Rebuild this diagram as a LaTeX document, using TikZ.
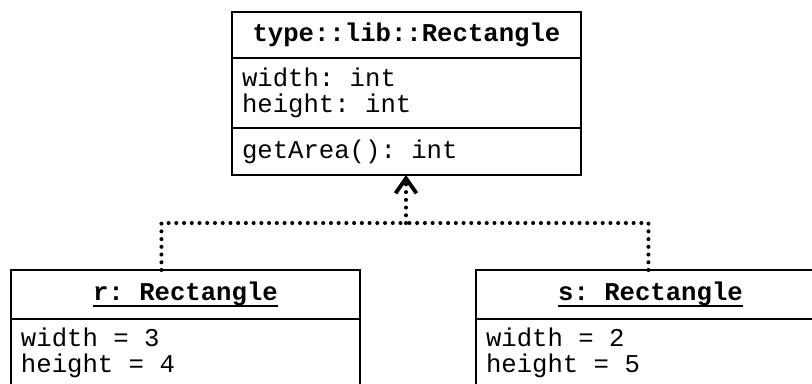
\documentclass[tikz,border=0pt]{standalone}
\usepackage{fontspec}
\setmonofont{Liberation Mono}
\usetikzlibrary{arrows.meta,calc}

% one character wide space
\newcommand{\ws}{\hphantom{0}}
% underlined object name
\newcommand{\objname}[1]{\setbox0\hbox{#1}\rlap{\rule[-4pt]{\wd0}{1.1pt}}\box0}

\tikzset{
  umlbox/.style={draw, line width=1.1pt, outer sep=0pt, inner xsep=0.2cm, inner ysep=0pt,
    text width=6.58cm, font=\ttfamily\fontsize{14.6pt}{14.8pt}\selectfont},
  umlhead/.style={umlbox, align=center, font=\ttfamily\bfseries\fontsize{14.6pt}{14.8pt}\selectfont},
  umlattr/.style={umlbox, align=left},
  instof/.style={line width=2.3pt, line cap=round, dash pattern=on 0pt off 4.4pt},
}

\begin{document}
\begin{tikzpicture}[x=0.02cm, y=-0.02cm]

\clip (0,0) rectangle (812,383);

% Class
\node[umlhead, minimum height=0.92cm, anchor=north west] (clsHead) at (232,12) {type::lib::Rectangle};
\node[umlattr, minimum height=1.4cm, anchor=north] (clsAttr) at (clsHead.south) {width:\ws int\\height:\ws int};
\node[umlattr, minimum height=0.94cm, anchor=north] (clsOps) at (clsAttr.south) {getArea():\ws int};

% Objects
\node[umlhead, minimum height=0.98cm, anchor=north west] (rHead) at (11,270) {\objname{r:\ws Rectangle}};
\node[umlattr, minimum height=1.36cm, anchor=north] (rAttr) at (rHead.south) {width\ws=\ws3\\height\ws=\ws4};

\node[umlhead, minimum height=0.98cm, anchor=north west] (sHead) at (476,270) {\objname{s:\ws Rectangle}};
\node[umlattr, minimum height=1.36cm, anchor=north] (sAttr) at (sHead.south) {width\ws=\ws2\\height\ws=\ws5};

% Instance-of links
\coordinate (join) at (406,223);
\draw[instof] ($(rHead.north)+(-24,0)$) |- (join);
\draw[instof] ($(sHead.north)+(-2,0)$) |- (join);
\draw[instof, -{Straight Barb[length=0.3cm, width=0.42cm, line width=2.2pt]}] (join) -- (join |- clsOps.south);

\end{tikzpicture}
\end{document}
